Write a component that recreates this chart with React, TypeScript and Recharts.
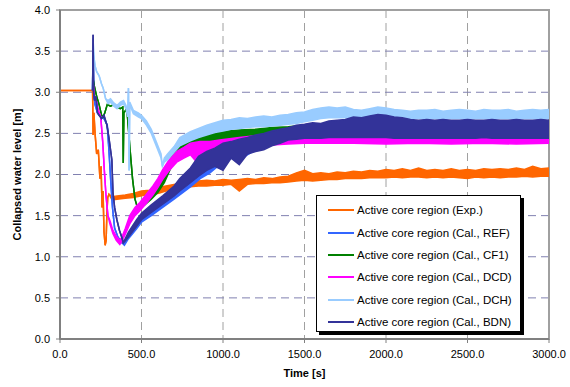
import { ComposedChart, Area, XAxis, YAxis, CartesianGrid, ReferenceArea } from 'recharts';

// time axis [s] and collapsed water level [m] (noise band: low / high)
const expTime = [0, 198, 200, 203, 208, 215, 225, 235, 245, 252, 258, 264, 270, 277, 283, 288, 293, 300, 320, 350, 400, 450, 500, 550, 600, 650, 700, 750, 800, 850, 900, 950, 1000, 1050, 1100, 1150, 1200, 1250, 1300, 1350, 1400, 1450, 1500, 1550, 1600, 1650, 1700, 1750, 1800, 1850, 1900, 1950, 2000, 2050, 2100, 2150, 2200, 2250, 2300, 2350, 2400, 2450, 2500, 2550, 2600, 2650, 2700, 2750, 2800, 2850, 2900, 2950, 3000];
const expLow = [3.02, 3.02, 3.02, 2.48, 2.75, 2.5, 2.25, 2.3, 1.95, 2.1, 1.6, 1.8, 1.3, 1.14, 1.2, 1.55, 1.72, 1.76, 1.69, 1.7, 1.71, 1.72, 1.74, 1.76, 1.77, 1.8, 1.82, 1.83, 1.85, 1.86, 1.86, 1.87, 1.87, 1.88, 1.8, 1.88, 1.89, 1.89, 1.9, 1.9, 1.91, 1.92, 1.93, 1.92, 1.93, 1.94, 1.94, 1.95, 1.95, 1.95, 1.96, 1.96, 1.96, 1.97, 1.96, 1.97, 1.97, 1.96, 1.97, 1.96, 1.97, 1.96, 1.95, 1.97, 1.96, 1.97, 1.96, 1.97, 1.97, 1.98, 1.97, 1.98, 1.98];
const expHigh = [3.02, 3.02, 3.02, 2.48, 2.75, 2.5, 2.25, 2.3, 1.95, 2.1, 1.6, 1.8, 1.3, 1.14, 1.2, 1.55, 1.72, 1.76, 1.73, 1.74, 1.75, 1.77, 1.8, 1.81, 1.84, 1.86, 1.88, 1.9, 1.91, 1.92, 1.93, 1.92, 1.94, 1.93, 1.94, 1.95, 1.94, 1.96, 1.95, 1.97, 1.98, 2.02, 2.05, 2.01, 2.02, 2.01, 2.03, 2.02, 2.04, 2.03, 2.05, 2.04, 2.06, 2.05, 2.07, 2.05, 2.08, 2.05, 2.06, 2.05, 2.07, 2.05, 2.06, 2.05, 2.07, 2.06, 2.07, 2.06, 2.08, 2.06, 2.1, 2.07, 2.08];

const refTime = [200, 203, 207, 215, 230, 250, 270, 290, 300, 312, 322, 335, 355, 380, 395, 420, 470, 500, 560, 630, 700, 800, 860, 920, 980, 1040, 1100, 1200, 1300, 1400, 1500, 1600, 1700, 1800, 1900, 2000, 2100, 2200, 2300, 2400, 2500, 2600, 2700, 2800, 2900, 3000];
const refLow = [3.02, 3.6, 3.0, 2.85, 2.75, 2.7, 2.68, 2.6, 2.3, 1.9, 1.6, 1.35, 1.24, 1.17, 1.14, 1.22, 1.34, 1.42, 1.5, 1.6, 1.7, 1.85, 1.95, 2.02, 2.12, 2.2, 2.18, 2.3, 2.36, 2.4, 2.42, 2.42, 2.42, 2.42, 2.42, 2.42, 2.42, 2.41, 2.42, 2.41, 2.42, 2.42, 2.42, 2.41, 2.42, 2.42];
const refHigh = [3.02, 3.6, 3.0, 2.85, 2.75, 2.7, 2.68, 2.6, 2.3, 1.9, 1.6, 1.35, 1.24, 1.17, 1.16, 1.27, 1.4, 1.48, 1.56, 1.66, 1.78, 1.98, 2.1, 2.18, 2.24, 2.3, 2.36, 2.42, 2.48, 2.52, 2.56, 2.58, 2.6, 2.62, 2.63, 2.64, 2.62, 2.62, 2.62, 2.62, 2.62, 2.62, 2.62, 2.62, 2.62, 2.62];

const cf1Time = [200, 204, 210, 225, 240, 255, 265, 275, 290, 310, 330, 350, 370, 385, 388, 392, 410, 420, 430, 445, 460, 475, 490, 520, 560, 600, 640, 680, 720, 760, 800, 860, 920, 980, 1100, 1200, 1300, 1400, 1500, 1600, 1800, 2000, 2200, 2400, 2600, 2800, 3000];
const cf1Low = [3.02, 3.15, 3.08, 2.95, 2.85, 2.72, 2.7, 2.75, 2.85, 2.83, 2.85, 2.82, 2.8, 2.82, 2.14, 2.75, 2.8, 2.55, 2.3, 1.95, 1.7, 1.6, 1.6, 1.63, 1.7, 1.78, 1.9, 2.08, 2.22, 2.3, 2.34, 2.36, 2.37, 2.38, 2.39, 2.4, 2.4, 2.4, 2.4, 2.4, 2.4, 2.4, 2.4, 2.4, 2.4, 2.4, 2.4];
const cf1High = [3.02, 3.15, 3.08, 2.95, 2.85, 2.72, 2.7, 2.75, 2.85, 2.83, 2.85, 2.82, 2.8, 2.82, 2.14, 2.75, 2.8, 2.55, 2.3, 1.95, 1.7, 1.6, 1.62, 1.68, 1.76, 1.86, 2.0, 2.2, 2.34, 2.42, 2.46, 2.48, 2.5, 2.52, 2.54, 2.55, 2.57, 2.58, 2.6, 2.6, 2.6, 2.6, 2.6, 2.6, 2.6, 2.6, 2.6];

const dcdTime = [200, 204, 210, 222, 235, 250, 262, 272, 282, 294, 306, 325, 345, 367, 380, 400, 428, 460, 490, 530, 570, 600, 630, 670, 716, 760, 800, 860, 920, 980, 1100, 1200, 1300, 1400, 1500, 1600, 1800, 2000, 2200, 2400, 2600, 2800, 3000];
const dcdLow = [3.02, 3.1, 2.95, 2.9, 2.78, 2.7, 2.4, 2.05, 1.75, 1.5, 1.4, 1.28, 1.2, 1.15, 1.19, 1.27, 1.4, 1.5, 1.56, 1.65, 1.75, 1.84, 1.94, 2.05, 2.15, 2.2, 2.24, 2.1, 2.28, 2.3, 2.33, 2.35, 2.36, 2.37, 2.38, 2.38, 2.38, 2.37, 2.38, 2.37, 2.38, 2.37, 2.38];
const dcdHigh = [3.02, 3.1, 2.95, 2.9, 2.78, 2.7, 2.4, 2.05, 1.75, 1.5, 1.44, 1.32, 1.25, 1.2, 1.24, 1.34, 1.5, 1.6, 1.66, 1.76, 1.86, 1.95, 2.06, 2.18, 2.28, 2.33, 2.38, 2.4, 2.4, 2.42, 2.45, 2.47, 2.48, 2.48, 2.5, 2.5, 2.5, 2.5, 2.5, 2.5, 2.5, 2.5, 2.5];

const dchTime = [200, 203, 206, 210, 215, 225, 240, 255, 265, 280, 295, 310, 330, 350, 370, 390, 405, 415, 420, 424, 428, 450, 480, 500, 530, 560, 590, 620, 628, 640, 660, 700, 735, 800, 850, 900, 950, 1000, 1050, 1100, 1150, 1200, 1250, 1300, 1350, 1400, 1450, 1500, 1550, 1600, 1650, 1700, 1750, 1800, 1850, 1900, 1950, 2000, 2050, 2100, 2150, 2200, 2250, 2300, 2350, 2400, 2450, 2500, 2550, 2600, 2650, 2700, 2750, 2800, 2850, 2900, 2950, 3000];
const dchLow = [3.02, 3.65, 3.5, 3.4, 3.32, 3.25, 3.2, 3.1, 3.05, 2.92, 2.86, 2.88, 2.83, 2.8, 2.84, 2.86, 2.8, 2.7, 3.05, 2.05, 2.85, 2.74, 2.7, 2.68, 2.6, 2.5, 2.35, 2.2, 2.1, 2.15, 2.18, 2.27, 2.35, 2.41, 2.45, 2.48, 2.51, 2.53, 2.55, 2.56, 2.57, 2.58, 2.58, 2.59, 2.6, 2.61, 2.62, 2.64, 2.66, 2.68, 2.69, 2.69, 2.69, 2.68, 2.68, 2.69, 2.7, 2.7, 2.69, 2.68, 2.68, 2.68, 2.68, 2.68, 2.68, 2.68, 2.68, 2.68, 2.68, 2.68, 2.68, 2.68, 2.68, 2.68, 2.68, 2.68, 2.68, 2.68];
const dchHigh = [3.02, 3.65, 3.5, 3.4, 3.32, 3.25, 3.2, 3.1, 3.05, 2.92, 2.9, 2.92, 2.87, 2.84, 2.88, 2.9, 2.84, 2.74, 3.05, 2.05, 2.88, 2.78, 2.75, 2.72, 2.65, 2.55, 2.4, 2.25, 2.1, 2.2, 2.25, 2.34, 2.45, 2.52, 2.56, 2.6, 2.63, 2.66, 2.67, 2.69, 2.68, 2.7, 2.71, 2.7, 2.72, 2.73, 2.75, 2.76, 2.79, 2.81, 2.82, 2.81, 2.82, 2.79, 2.78, 2.8, 2.82, 2.81, 2.79, 2.78, 2.77, 2.78, 2.78, 2.79, 2.77, 2.78, 2.79, 2.78, 2.77, 2.79, 2.78, 2.78, 2.79, 2.77, 2.78, 2.79, 2.78, 2.79];

const bdnTime = [200, 203, 206, 212, 220, 230, 240, 255, 270, 288, 300, 318, 325, 335, 349, 365, 380, 388, 395, 420, 470, 500, 560, 630, 700, 735, 800, 850, 900, 950, 1000, 1050, 1100, 1150, 1200, 1250, 1300, 1350, 1400, 1450, 1500, 1550, 1600, 1650, 1700, 1750, 1800, 1850, 1900, 1950, 2000, 2050, 2100, 2150, 2200, 2250, 2300, 2350, 2400, 2450, 2500, 2550, 2600, 2650, 2700, 2750, 2800, 2850, 2900, 2950, 3000];
const bdnLow = [3.02, 3.7, 3.0, 2.9, 2.95, 2.75, 2.72, 2.68, 2.72, 2.6, 2.45, 2.18, 1.78, 1.6, 1.45, 1.32, 1.23, 1.17, 1.18, 1.24, 1.37, 1.45, 1.54, 1.64, 1.74, 1.8, 1.9, 1.98, 2.05, 2.1, 2.05, 2.2, 2.12, 2.25, 2.28, 2.3, 2.35, 2.38, 2.42, 2.43, 2.44, 2.44, 2.44, 2.45, 2.45, 2.45, 2.45, 2.45, 2.45, 2.45, 2.45, 2.44, 2.44, 2.44, 2.44, 2.44, 2.44, 2.44, 2.44, 2.44, 2.44, 2.44, 2.45, 2.44, 2.44, 2.44, 2.44, 2.44, 2.44, 2.44, 2.44];
const bdnHigh = [3.02, 3.7, 3.0, 2.9, 2.95, 2.75, 2.72, 2.68, 2.72, 2.6, 2.45, 2.18, 1.78, 1.6, 1.45, 1.32, 1.23, 1.17, 1.2, 1.3, 1.45, 1.53, 1.63, 1.74, 1.86, 1.95, 2.08, 2.22, 2.28, 2.32, 2.38, 2.4, 2.43, 2.45, 2.48, 2.5, 2.53, 2.55, 2.57, 2.6, 2.61, 2.63, 2.62, 2.65, 2.66, 2.67, 2.7, 2.69, 2.71, 2.73, 2.72, 2.7, 2.69, 2.67, 2.66, 2.67, 2.66, 2.67, 2.66, 2.66, 2.67, 2.66, 2.66, 2.67, 2.66, 2.66, 2.67, 2.66, 2.66, 2.67, 2.66];

const xTicks = [0, 500, 1000, 1500, 2000, 2500, 3000];
const yTicks = [0, 0.5, 1, 1.5, 2, 2.5, 3, 3.5, 4];

const toBand = (time: number[], low: number[], high: number[]) =>
  time.map((t, i) => ({ t, band: [low[i], high[i]] }));

const series = [
  { name: 'Active core region (Exp.)', color: '#ff6600', data: toBand(expTime, expLow, expHigh) },
  { name: 'Active core region (Cal., REF)', color: '#3366ff', data: toBand(refTime, refLow, refHigh) },
  { name: 'Active core region (Cal., CF1)', color: '#008000', data: toBand(cf1Time, cf1Low, cf1High) },
  { name: 'Active core region (Cal., DCD)', color: '#ff00ff', data: toBand(dcdTime, dcdLow, dcdHigh) },
  { name: 'Active core region (Cal., DCH)', color: '#99ccff', data: toBand(dchTime, dchLow, dchHigh) },
  { name: 'Active core region (Cal., BDN)', color: '#333399', data: toBand(bdnTime, bdnLow, bdnHigh) },
];

const FONT = '"Liberation Sans", Arial, sans-serif';
const fmt = (v: number) => v.toFixed(1);

export default function App() {
  return (
    <div style={{ position: 'relative', width: 570, height: 387, fontFamily: FONT, background: '#fff' }}>
      <style>{'body{margin:0}'}</style>
      <ComposedChart width={570} height={387} margin={{ top: 10, right: 21, left: 0, bottom: 8 }}>
        <CartesianGrid horizontal={false} stroke="#a0a0a0" strokeDasharray="8 5" />
        <CartesianGrid vertical={false} stroke="#8080b0" strokeDasharray="8 5" />
        <ReferenceArea x1={0} x2={3000} y1={0} y2={4} fill="none" stroke="#a0a0a0" strokeWidth={2} />
        <XAxis
          type="number"
          dataKey="t"
          domain={[0, 3000]}
          ticks={xTicks}
          tickFormatter={fmt}
          height={40}
          tickSize={4}
          tickMargin={7}
          tick={{ fill: '#000', fontSize: 11, fontFamily: FONT }}
          axisLine={{ stroke: '#808080', strokeWidth: 2 }}
          tickLine={{ stroke: '#808080' }}
          label={{ value: 'Time [s]', position: 'insideBottom', offset: 2, style: { fontWeight: 'bold', fontSize: 11, fill: '#000', fontFamily: FONT } }}
        />
        <YAxis
          type="number"
          domain={[0, 4]}
          ticks={yTicks}
          tickFormatter={fmt}
          width={60}
          tickSize={4}
          tickMargin={6}
          tick={{ fill: '#000', fontSize: 11, fontFamily: FONT }}
          axisLine={{ stroke: '#808080', strokeWidth: 2 }}
          tickLine={{ stroke: '#808080' }}
          label={{ value: 'Collapsed water level [m]', angle: -90, position: 'insideLeft', offset: 17, style: { textAnchor: 'middle', fontWeight: 'bold', fontSize: 11, fill: '#000', fontFamily: FONT } }}
        />
        {series.map((s) => (
          <Area
            key={s.name}
            data={s.data}
            dataKey="band"
            type="linear"
            stroke={s.color}
            strokeWidth={1.5}
            fill={s.color}
            fillOpacity={1}
            dot={false}
            activeDot={false}
            isAnimationActive={false}
          />
        ))}
      </ComposedChart>

      {/* legend box with drop shadow */}
      <div
        style={{
          position: 'absolute',
          left: 316,
          top: 195,
          width: 205,
          height: 137,
          border: '1px solid #000',
          background: '#fff',
          boxShadow: '3px 3px 0 #000',
          paddingTop: 3,
          boxSizing: 'border-box',
        }}
      >
        {series.map((s) => (
          <div key={s.name} style={{ display: 'flex', alignItems: 'center', height: 22.4, fontSize: 11.5, color: '#000' }}>
            <div style={{ width: 26, height: 2, background: s.color, marginLeft: 11, marginRight: 3 }} />
            <span>{s.name}</span>
          </div>
        ))}
      </div>
    </div>
  );
}
